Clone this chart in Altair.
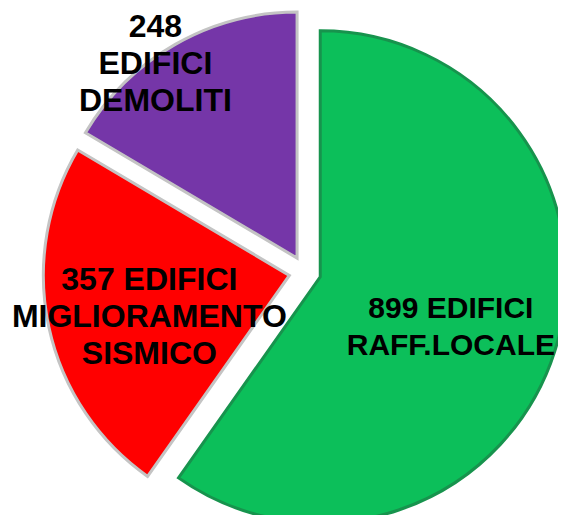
import altair as alt
import pandas as pd

categories = ["RAFF.LOCALE", "MIGLIORAMENTO SISMICO", "DEMOLITI"]
values = [899, 357, 248]
labels = ["899 EDIFICI\nRAFF.LOCALE", "357 EDIFICI\nMIGLIORAMENTO\nSISMICO", "248\nEDIFICI\nDEMOLITI"]
colors = ["#0cbf5a", "#ff0000", "#7536a8"]
strokes = ["#17934d", "#c4c4c4", "#c4c4c4"]

total = sum(values)
df = pd.DataFrame({"cat": categories, "value": values, "label": labels, "order": list(range(len(values)))})

CX, CY, EXPLODE, R = 297, 264, 16, 246
LH = 37

base = alt.Chart(df).transform_window(
    cum="sum(value)", sort=[alt.SortField("order")], frame=[None, 0]
).transform_joinaggregate(
    total="sum(value)"
).transform_calculate(
    start="datum.cum - datum.value",
    mid="2*PI*(datum.cum - datum.value/2)/datum.total",
    nlines="length(split(datum.label, '\\n'))",
).transform_calculate(
    cx=f"{CX} + {EXPLODE}*sin(datum.mid)",
    cy=f"{CY} - {EXPLODE}*cos(datum.mid)",
    lr="datum.cat == 'DEMOLITI' ? 240 : (datum.cat == 'RAFF.LOCALE' ? 140 : 146)",
    la="datum.mid + (datum.cat == 'DEMOLITI' ? -6.5 : (datum.cat == 'RAFF.LOCALE' ? 3.5 : -4.4))*PI/180",
).transform_calculate(
    lx="datum.cx + datum.lr*sin(datum.la)",
    ly=f"datum.cy - datum.lr*cos(datum.la) - (datum.nlines - 1)/2*{LH}",
)

arcs = base.mark_arc(radius=R, strokeWidth=3, strokeJoin="miter").encode(
    x=alt.X("cx:Q", scale=None),
    y=alt.Y("cy:Q", scale=None),
    theta=alt.Theta("start:Q", scale=alt.Scale(domain=[0, total])),
    theta2="cum:Q",
    fill=alt.Fill("cat:N", scale=alt.Scale(domain=categories, range=colors), legend=None),
    stroke=alt.Stroke("cat:N", scale=alt.Scale(domain=categories, range=strokes), legend=None),
)

texts = base.mark_text(
    font="Liberation Sans", fontWeight="bold", lineBreak="\n",
    lineHeight=LH, align="center", baseline="middle", color="black",
).encode(
    x=alt.X("lx:Q", scale=None),
    y=alt.Y("ly:Q", scale=None),
    text="label:N",
    size=alt.condition(alt.datum.cat == "RAFF.LOCALE", alt.value(30), alt.value(32)),
)

chart = alt.layer(arcs, texts).properties(
    width=550, height=507, padding=0, autosize=alt.AutoSizeParams(type="none")
).configure_view(stroke=None)

chart.save("out.html", embed_options={"renderer": "svg", "actions": False})
